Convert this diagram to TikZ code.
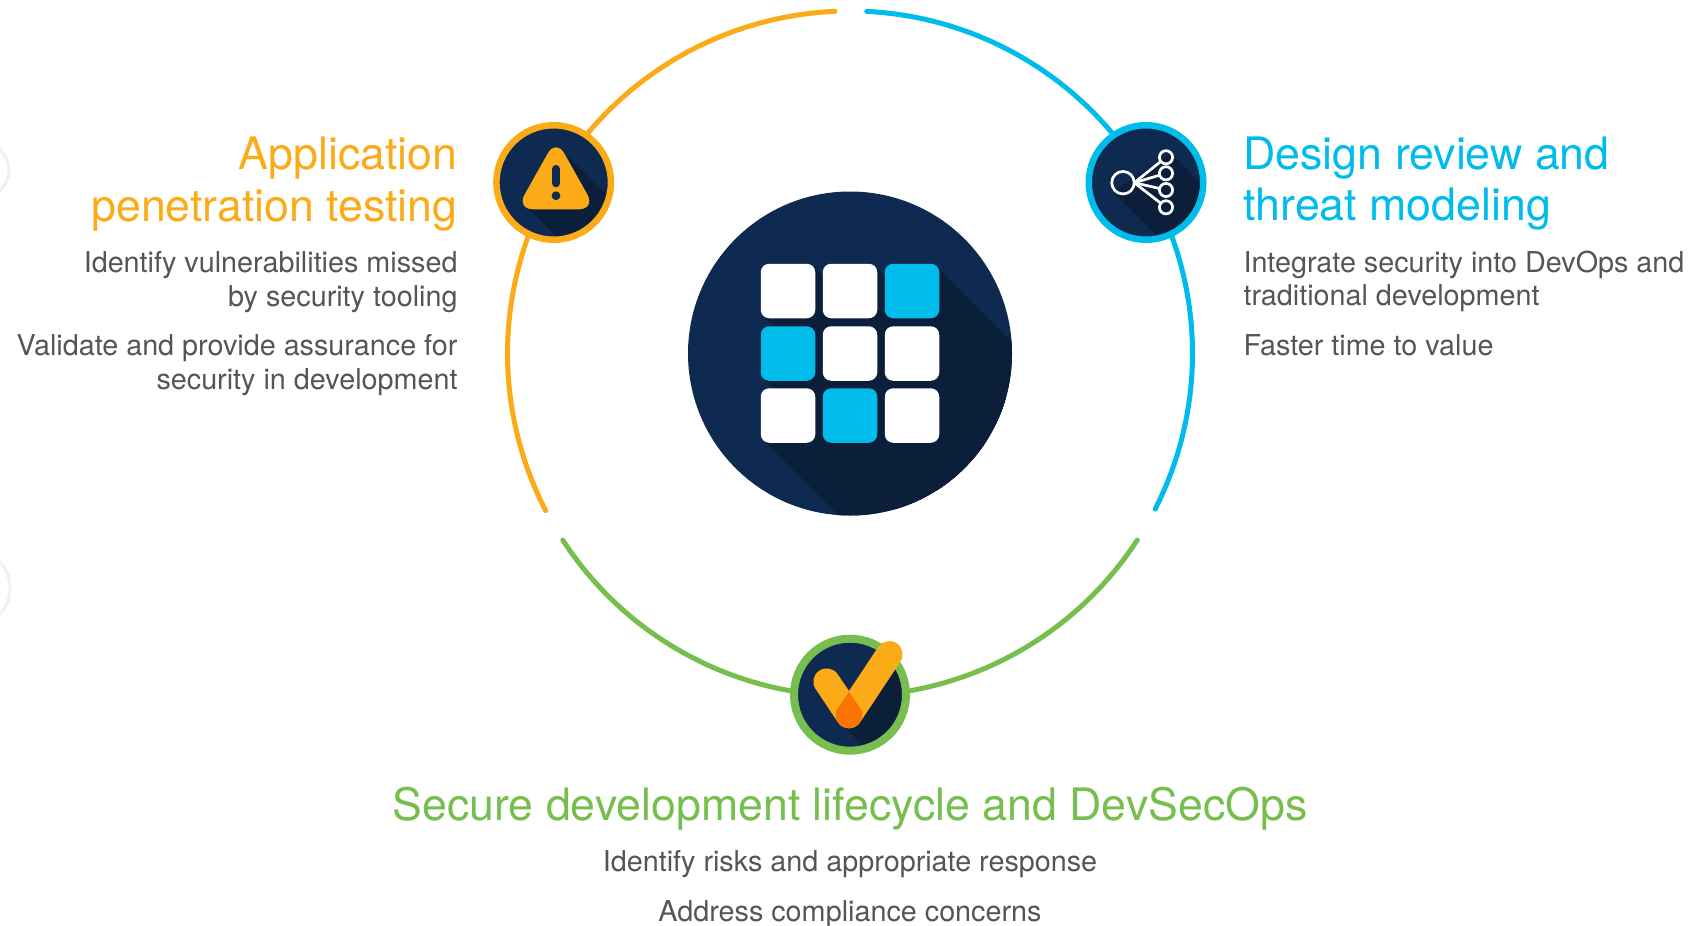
\documentclass[tikz,border=0pt]{standalone}
\usepackage{fontspec}
\setmainfont{TeX Gyre Heros}
\definecolor{navy}{HTML}{0F2A50}
\definecolor{navyd}{HTML}{0C1F3A}
\definecolor{cisorange}{HTML}{FBAB18}
\definecolor{cisdeep}{HTML}{F97400}
\definecolor{cisblue}{HTML}{00BCEB}
\definecolor{cisgreen}{HTML}{76BE4D}
\definecolor{bodygray}{HTML}{555555}
\definecolor{faint}{HTML}{F0F0F0}
\tikzset{
 titletext/.style={font=\fontsize{44.7}{44.7}\selectfont,inner sep=0,outer sep=0},
 bodytext/.style={font=\fontsize{28.75}{28.75}\selectfont,inner sep=0,outer sep=0,text=bodygray},
 tile/.style={rounded corners=8.5pt,fill=#1,minimum size=54.5pt,inner sep=0,outer sep=0},
 disc/.style={circle,fill=navy,minimum size=#1,inner sep=0,outer sep=0},
 ringarc/.style={line width=5pt,line cap=round,draw=#1},
 hubring/.style={circle,draw=white,line width=2.7pt,minimum size=#1,inner sep=0,outer sep=0},
 iconring/.style={line width=6.5pt,draw=#1},
}
\begin{document}
\begin{tikzpicture}[x=1pt,y=1pt,yscale=-1]
\useasboundingbox (0,0) rectangle (1692,926);
\coordinate (c) at (850,353.5);
% faint cut-off circles at the left edge
\draw[faint,line width=3pt] (-19,170) circle[radius=28pt];
\draw[faint,line width=3pt] (-29,588) circle[radius=39pt];
% big ring
\draw[ringarc=cisorange] (c) ++(-92.5:342.5pt) arc[start angle=-92.5,end angle=-207.3,radius=342.5pt];
\draw[ringarc=cisblue] (c) ++(-87.2:342.5pt) arc[start angle=-87.2,end angle=27,radius=342.5pt];
\draw[ringarc=cisgreen] (c) ++(-213:342.5pt) arc[start angle=-213,end angle=-327,radius=342.5pt];
% centre icon
\node[disc=324pt] (hub) at (c) {};
\begin{scope}
\clip (c) circle[radius=162pt];
\foreach \x in {788,850,912}\foreach \y in {291,353.5,415.5}{
 \fill[navyd] (\x+24.75,\y-24.75) -- (\x+424.75,\y+375.25) -- (\x+375.25,\y+424.75) -- (\x-24.75,\y+24.75) -- cycle;
}
\end{scope}
\node[tile=white] (t11) at (788,291) {};
\node[tile=white] (t12) at (850,291) {};
\node[tile=cisblue] (t13) at (912,291) {};
\node[tile=cisblue] (t21) at (788,353.5) {};
\node[tile=white] (t22) at (850,353.5) {};
\node[tile=white] (t23) at (912,353.5) {};
\node[tile=white] (t31) at (788,415.5) {};
\node[tile=cisblue] (t32) at (850,415.5) {};
\node[tile=white] (t33) at (912,415.5) {};
% warning icon
\node[disc=115pt] (warn) at (553.7,182.5) {};
\begin{scope}
\clip (553.7,182.5) circle[radius=57.5pt];
\fill[navyd] (568.3,156.7) -- (668.3,256.7) -- (630,310) -- (530,210) -- cycle;
\end{scope}
\draw[iconring=cisorange] (warn.center) circle[radius=57.25pt];
\fill[cisorange,rounded corners=17pt] (556,138.7) -- (595.7,209.3) -- (516.3,209.3) -- cycle;
\draw[navy,line width=8pt,line cap=round] (556,169) -- (556,183.3);
\fill[navy] (556,195.7) circle[radius=4.4pt];
% network icon
\node[disc=115pt] (net) at (1146,182.5) {};
\begin{scope}
\clip (1146,182.5) circle[radius=57.5pt];
\fill[navyd] (1171,154) -- (1271,254) -- (1212.7,291.7) -- (1112.7,191.7) -- cycle;
\end{scope}
\draw[iconring=cisblue] (net.center) circle[radius=57.25pt];
\node[hubring=22.5pt] (root) at (1123,182.7) {};
\node[hubring=13.2pt] (n1) at (1166,157.3) {};
\node[hubring=13.2pt] (n2) at (1166,173.3) {};
\node[hubring=13.2pt] (n3) at (1166,190) {};
\node[hubring=13.2pt] (n4) at (1166,207.3) {};
\foreach \n in {n1,n2,n3,n4}{\draw[white,line width=2.7pt] (root.east) -- (\n);}
% check icon
\node[disc=112pt] (chk) at (850,694.7) {};
\begin{scope}
\clip (850,694.7) circle[radius=52.5pt];
\fill[navyd] (898,665) -- (998,765) -- (943,826) -- (843,726) -- cycle;
\end{scope}
\draw[cisgreen,line width=8pt] (chk.center) circle[radius=56pt];
\draw[cisorange,line width=26.6pt,line cap=round,line join=round] (826.7,681.7) -- (849,715) -- (889.3,654.3);
\fill[cisdeep] (849,691.7) -- (836.67,710) arc[start angle=202,end angle=-22,radius=13.3pt] -- cycle;
% texts
\node[titletext,text=cisorange,anchor=base east] (ta1) at (457.5,169) {Application};
\node[titletext,text=cisorange,anchor=base east] (ta2) at (457.5,221) {penetration testing};
\node[bodytext,anchor=base east] (ba1) at (457.5,272.5) {Identify vulnerabilities missed};
\node[bodytext,anchor=base east] (ba2) at (457.5,306.5) {by security tooling};
\node[bodytext,anchor=base east] (ba3) at (457.5,355.5) {Validate and provide assurance for};
\node[bodytext,anchor=base east] (ba4) at (457.5,389.5) {security in development};
\node[titletext,text=cisblue,anchor=base west] (td1) at (1243.5,169) {Design review and};
\node[titletext,text=cisblue,anchor=base west] (td2) at (1243.5,220) {threat modeling};
\node[bodytext,anchor=base west] (bd1) at (1243.5,272.5) {Integrate security into DevOps and};
\node[bodytext,anchor=base west] (bd2) at (1243.5,305.5) {traditional development};
\node[bodytext,anchor=base west] (bd3) at (1243.5,355.5) {Faster time to value};
\node[titletext,text=cisgreen,anchor=base] (ts1) at (850,820) {Secure development lifecycle and DevSecOps};
\node[bodytext,anchor=base] (bs1) at (850,871.5) {Identify risks and appropriate response};
\node[bodytext,anchor=base] (bs2) at (850,921.5) {Address compliance concerns};
\end{tikzpicture}
\end{document}
